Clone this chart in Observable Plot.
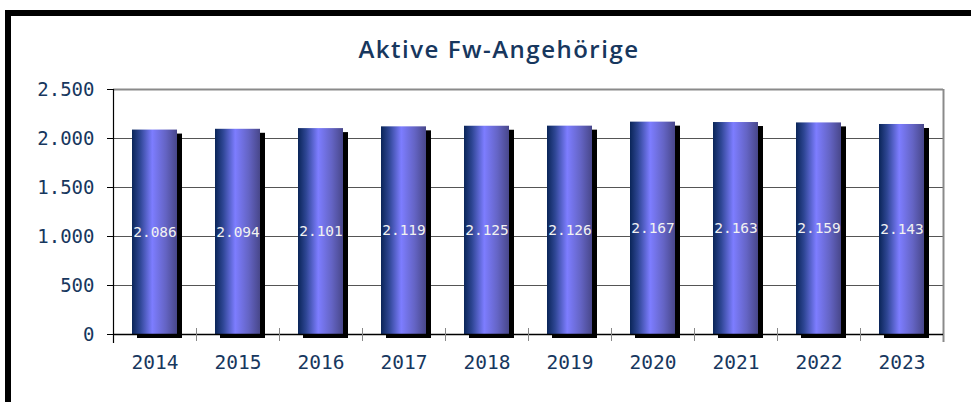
<!DOCTYPE html>
<html><head><meta charset="utf-8">
<script src="https://cdn.jsdelivr.net/npm/d3@7"></script>
<script src="https://cdn.jsdelivr.net/npm/@observablehq/plot@0.6"></script>
<style>
html,body{margin:0;padding:0;background:#fff;}
body{width:971px;height:402px;overflow:hidden;position:relative;}
#frame{position:absolute;left:5px;top:10px;width:1000px;height:500px;border-left:6px solid #000;border-top:6px solid #000;}
#title{position:absolute;left:0;width:998px;top:37px;text-align:center;font:600 24px/23px "Open Sans";letter-spacing:1.5px;color:#17375e;z-index:2;}
#chart{position:absolute;left:0;top:70px;}
</style></head><body>
<div id="frame"></div>
<div id="title">Aktive Fw-Angehörige</div>
<div id="chart"></div>
<script>
const years = ["2014","2015","2016","2017","2018","2019","2020","2021","2022","2023"];
const values = [2086,2094,2101,2119,2125,2126,2167,2163,2159,2143];
const yTicks = [0,500,1000,1500,2000,2500];
const gridTicks = [500,1000,1500,2000];

const data = years.map((y,i)=>({year:y, value:values[i]}));
const de = d3.formatLocale({decimal:",", thousands:".", grouping:[3], currency:["","€"]});
const fmt = de.format(",d");

const W = 971, H = 332, mL = 113, mR = 28, mT = 19, mB = 68;
const half = (W - mL - mR) / years.length / 2;
const navy = "#17375e";
const mono = "DejaVu Sans Mono";

const plot = Plot.plot({
  width: W, height: H,
  marginLeft: mL, marginRight: mR, marginTop: mT, marginBottom: mB,
  style: {fontFamily: mono, background: "transparent", overflow: "visible"},
  x: {domain: years, paddingInner: 0.46, paddingOuter: 0.23, label: null},
  y: {domain: [0, 2500], label: null},
  marks: [
    Plot.ruleY(gridTicks, {stroke: "#555", strokeWidth: 1}),
    Plot.ruleY([2500], {stroke: "#8a8a8a", strokeWidth: 2}),
    Plot.ruleX([years[years.length-1]], {dx: half, stroke: "#8a8a8a", strokeWidth: 2, insetBottom: -8}),
    Plot.barY(data, {x: "year", y: "value", fill: "#000", dx: 5, dy: 4}),
    Plot.barY(data, {x: "year", y: "value", fill: "url(#barGrad)"}),
    Plot.text(data, {x: "year", y: d => d.value / 2, text: d => fmt(d.value), fill: "#f2f2f2", fontSize: 14.5, fontFamily: mono}),
    Plot.ruleY([0], {stroke: "#000", strokeWidth: 1.5}),
    Plot.ruleX([years[0]], {dx: -half, stroke: "#000", strokeWidth: 1.2, insetBottom: -9}),
    Plot.ruleX(years.slice(1), {dx: -half, y1: 0, y2: 0, insetTop: -6, insetBottom: -7, stroke: "#888"}),
    Plot.axisY({ticks: yTicks, tickSize: 6, tickFormat: () => "", stroke: "#000", label: null}),
    Plot.axisY({ticks: yTicks, tickSize: 0, tickPadding: 19, tickFormat: fmt, fill: navy, color: navy, fontSize: 19, fontFamily: mono, label: null}),
    Plot.axisX({tickSize: 0, tickPadding: 21, fill: navy, color: navy, fontSize: 19.5, fontFamily: mono, label: null})
  ]
});
document.getElementById("chart").appendChild(plot);
const svg = d3.select(plot);
const defs = svg.insert("defs", ":first-child");
const grad = defs.append("linearGradient").attr("id", "barGrad")
  .attr("x1", "0").attr("x2", "1").attr("y1", "0").attr("y2", "0");
[[0, "#0a2558"], [0.18, "#2e4694"], [0.45, "#7d7dff"], [0.75, "#6464c4"], [1, "#48478a"]]
  .forEach(([o, c]) => grad.append("stop").attr("offset", o).attr("stop-color", c));
</script>
</body></html>
